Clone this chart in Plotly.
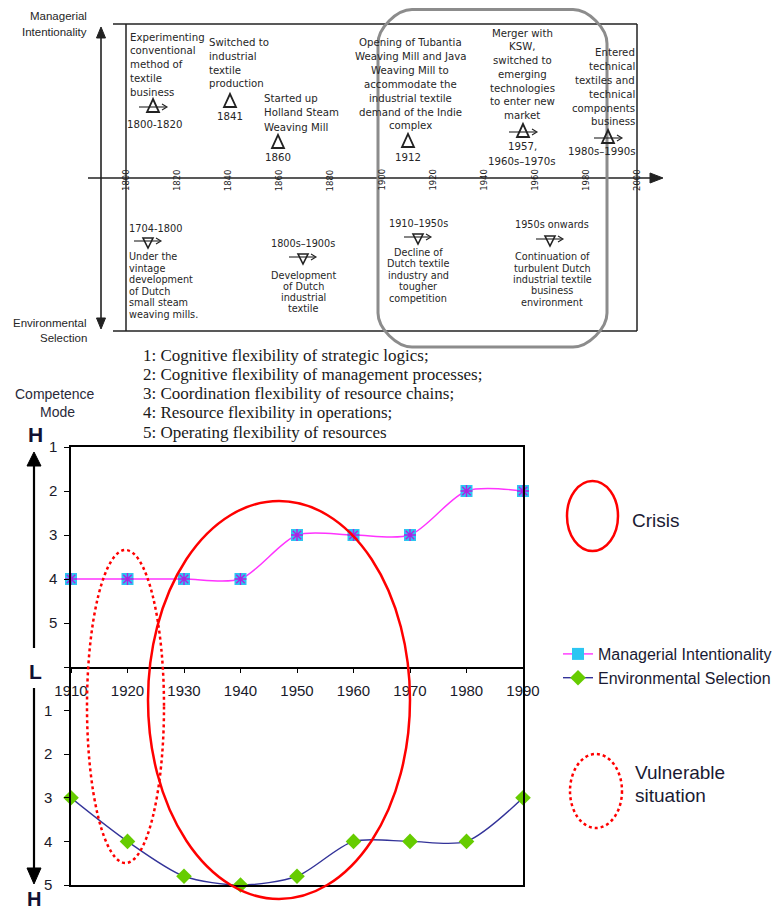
import plotly.graph_objects as go

# page offset of the figure (browser default body margin)
OFF = 8
W, H = 782 - OFF, 911 - OFF

# ---------------- data ----------------
decades = [1910, 1920, 1930, 1940, 1950, 1960, 1970, 1980, 1990]
managerial = [4, 4, 4, 4, 3, 3, 3, 2, 2]
environmental = [3, 4, 4.8, 5, 4.8, 4, 4, 4, 3]
mode_ticks_upper = [1, 2, 3, 4, 5, 6]
mode_labels_upper = ["1", "2", "3", "4", "5", ""]
mode_ticks_lower = [0, 1, 2, 3, 4, 5]
mode_labels_lower = ["", "1", "2", "3", "4", "5"]
timeline_years = [1800, 1820, 1840, 1860, 1880, 1900, 1920, 1940, 1960, 1980, 2000]
flex_labels = [
    "1: Cognitive flexibility of strategic logics;",
    "2: Cognitive flexibility of management processes;",
    "3: Coordination flexibility of resource chains;",
    "4: Resource flexibility in operations;",
    "5: Operating flexibility of resources",
]

# ---------------- helpers (screen pixel -> paper) ----------------
def X(p):
    return (p - OFF) / W

def Y(p):
    return 1 - (p - OFF) / H

shapes = []
annots = []
DARK = "#222222"
TXT = "#262626"


def line(x0, y0, x1, y1, color=DARK, width=1.5, dash="solid"):
    shapes.append(dict(type="line", xref="paper", yref="paper",
                       x0=X(x0), y0=Y(y0), x1=X(x1), y1=Y(y1),
                       line=dict(color=color, width=width, dash=dash)))


def poly(pts, color=DARK, fill=None, width=1.5):
    d = "M " + " L ".join(f"{X(a):.5f},{Y(b):.5f}" for a, b in pts) + " Z"
    shapes.append(dict(type="path", xref="paper", yref="paper", path=d,
                       line=dict(color=color, width=width),
                       fillcolor=fill if fill else "rgba(0,0,0,0)"))


def polyline(pts, color=DARK, width=1.2):
    d = "M " + " L ".join(f"{X(a):.5f},{Y(b):.5f}" for a, b in pts)
    shapes.append(dict(type="path", xref="paper", yref="paper", path=d,
                       line=dict(color=color, width=width)))


def ellipse(x0, y0, x1, y1, color="#FF0000", width=2.5, dash="solid"):
    shapes.append(dict(type="circle", xref="paper", yref="paper",
                       x0=X(x0), y0=Y(y1), x1=X(x1), y1=Y(y0),
                       line=dict(color=color, width=width, dash=dash),
                       layer="above"))


def text(t, x, y, size=10, anchor="left", color=TXT, family="DejaVu Sans",
         angle=0, bold=False):
    if bold:
        t = "<b>" + t + "</b>"
    annots.append(dict(x=X(x), y=Y(y), xref="paper", yref="paper", text=t,
                       showarrow=False, xanchor=anchor, yanchor="middle",
                       textangle=angle, borderpad=0,
                       font=dict(size=size, color=color, family=family)))


def block(lines, x, y0, dy, size=10.2, anchor="left"):
    for i, t in enumerate(lines):
        text(t, x, y0 + i * dy, size=size, anchor=anchor)


def up_tri(x, y, arrow=False):
    poly([(x, y - 7), (x - 6, y + 6), (x + 6, y + 6)], width=1.8)
    if arrow:
        line(x - 14, y + 1, x + 13, y + 1, width=1.1)
        polyline([(x + 9, y - 2), (x + 14, y + 1), (x + 9, y + 4)], width=1.1)


def down_tri(x, y):
    poly([(x - 5, y - 4), (x + 5, y - 4), (x, y + 6)], width=1.6)
    line(x - 14, y - 1, x + 12, y - 1, width=1.1)
    polyline([(x + 8, y - 4), (x + 13, y - 1), (x + 8, y + 2)], width=1.1)


# ---------------- top timeline diagram ----------------
T0, T1 = 126, 637  # px of 1800 and 2000


def tx(year):
    return T0 + (year - timeline_years[0]) * (T1 - T0) / (timeline_years[-1] - timeline_years[0])


# frame
line(113, 24, 637, 24)
line(113, 331, 637, 331)
line(126, 24, 126, 331)
line(637, 24, 637, 331)
# vertical double arrow
line(101, 36, 101, 320, width=1.6)
poly([(101, 27), (96.5, 38), (105.5, 38)], fill=DARK, width=1)
poly([(101, 329), (96.5, 318), (105.5, 318)], fill=DARK, width=1)
# horizontal time axis
line(88, 178, 652, 178, width=1.6)
poly([(663, 178), (650, 173), (650, 183)], fill=DARK, width=1)
for yr in timeline_years:
    text(str(yr), tx(yr), 180, size=8.5, anchor="center", angle=-90, color="#222222")

# rounded grey highlight box
rx0, ry0, rx1, ry1, r = 378, 9.5, 607, 347, 34
k = 0.45 * r
path = (f"M {X(rx0 + r)},{Y(ry0)} L {X(rx1 - r)},{Y(ry0)} "
        f"C {X(rx1 - r + k)},{Y(ry0)} {X(rx1)},{Y(ry0 + r - k)} {X(rx1)},{Y(ry0 + r)} "
        f"L {X(rx1)},{Y(ry1 - r)} "
        f"C {X(rx1)},{Y(ry1 - r + k)} {X(rx1 - r + k)},{Y(ry1)} {X(rx1 - r)},{Y(ry1)} "
        f"L {X(rx0 + r)},{Y(ry1)} "
        f"C {X(rx0 + r - k)},{Y(ry1)} {X(rx0)},{Y(ry1 - r + k)} {X(rx0)},{Y(ry1 - r)} "
        f"L {X(rx0)},{Y(ry0 + r)} "
        f"C {X(rx0)},{Y(ry0 + r - k)} {X(rx0 + r - k)},{Y(ry0)} {X(rx0 + r)},{Y(ry0)} Z")
shapes.append(dict(type="path", xref="paper", yref="paper", path=path,
                   line=dict(color="#8c8c8c", width=3)))

# axis titles of the timeline
text("Managerial", 88, 16, size=11.5, anchor="right", family="Liberation Sans")
text("Intentionality", 88, 32, size=11.5, anchor="right", family="Liberation Sans")
text("Environmental", 88, 323, size=11.5, anchor="right", family="Liberation Sans")
text("Selection", 88, 338, size=11.5, anchor="right", family="Liberation Sans")

# upper events
block(["Experimenting", "conventional", "method of", "textile", "business"], 129, 37, 13.9)
up_tri(153, 106, arrow=True)
text("1800-1820", 155, 125, size=10.2, anchor="center")

block(["Switched to", "industrial", "textile", "production"], 208, 43, 13.6)
up_tri(230, 101)
text("1841", 230, 117, size=10.2, anchor="center")

block(["Started up", "Holland Steam", "Weaving Mill"], 263, 99, 14)
up_tri(278, 142)
text("1860", 278, 157, size=10.2, anchor="center")

block(["Opening of Tubantia", "Weaving Mill and Java", "Weaving Mill to",
       "accommodate the", "industrial textile", "demand of the Indie", "complex"],
      410, 43, 13.8, anchor="center")
up_tri(408, 141)
text("1912", 408, 157, size=10.2, anchor="center")

block(["Merger with", "KSW,", "switched to", "emerging", "technologies",
       "to enter new", "market"], 522, 33, 13.8, anchor="center")
up_tri(523, 131, arrow=True)
text("1957,", 522, 147, size=10.2, anchor="center")
text("1960s\u20131970s", 522, 162, size=10.2, anchor="center")

block(["Entered", "technical", "textiles and", "technical", "components", "business"],
      636, 53, 13.8, anchor="right")
up_tri(608, 137, arrow=True)
text("1980s\u20131990s", 602, 152, size=10.2, anchor="center")

# lower events
text("1704-1800", 128, 228, size=9.8)
down_tri(148, 242)
block(["Under the", "vintage", "development", "of Dutch", "small steam", "weaving mills."],
      128, 257, 11.4, size=9.7)

text("1800s\u20131900s", 303, 243, size=9.7, anchor="center")
down_tri(303, 258)
block(["Development", "of Dutch", "industrial", "textile"], 303, 275, 11.2, size=9.7,
      anchor="center")

text("1910\u20131950s", 418, 223, size=9.7, anchor="center")
down_tri(418, 238)
block(["Decline of", "Dutch textile", "industry and", "tougher", "competition"],
      418, 252, 11.5, size=9.7, anchor="center")

text("1950s onwards", 552, 225, size=9.7, anchor="center")
down_tri(550, 240)
block(["Continuation of", "turbulent Dutch", "industrial textile", "business", "environment"],
      552, 257, 11.3, size=9.7, anchor="center")

# ---------------- middle text ----------------
for i, t in enumerate(flex_labels):
    text(t, 142, 355 + 19.3 * i, size=17, family="Liberation Serif", color="#1a1a1a")

text("Competence", 55, 394, size=14, anchor="center", family="Liberation Sans", color="#2a2a3a")
text("Mode", 57, 412, size=14, anchor="center", family="Liberation Sans", color="#2a2a3a")
text("H", 36, 434, size=21, anchor="center", family="Liberation Sans", color="#111133", bold=True)
text("L", 35, 671, size=21, anchor="center", family="Liberation Sans", color="#111133", bold=True)
text("H", 34, 899, size=20, anchor="center", family="Liberation Sans", color="#111133", bold=True)

# left arrows of competence chart
line(34, 462, 34, 648, color="#000000", width=2.2)
poly([(34, 452), (27, 466), (41, 466)], color="#000000", fill="#000000", width=1)
line(34, 688, 34, 870, color="#000000", width=2.2)
poly([(34, 884), (27, 868), (41, 868)], color="#000000", fill="#000000", width=1)

# ellipses
ellipse(148, 501, 410, 899)
ellipse(87, 550, 164, 863, dash="dot")
ellipse(567, 481, 618, 551)
ellipse(570, 754, 622, 828, dash="dot")
text("Crisis", 631, 520, size=19, family="Liberation Sans", color="#1a1a33")
text("Vulnerable", 634, 772, size=19, family="Liberation Sans", color="#1a1a33")
text("situation", 634, 795, size=19, family="Liberation Sans", color="#1a1a33")

# ---------------- chart ----------------
fig = go.Figure()
fig.add_trace(go.Scatter(
    x=decades, y=managerial, mode="lines+markers", name="Managerial Intentionality",
    line=dict(color="#FF33FF", width=1.4, shape="spline", smoothing=0.8),
    marker=dict(symbol="square", size=12, color="#2CC6F2", line=dict(width=0)),
    cliponaxis=False, xaxis="x", yaxis="y"))
fig.add_trace(go.Scatter(
    x=decades, y=managerial, mode="markers", showlegend=False, hoverinfo="skip",
    marker=dict(symbol="asterisk-open", size=10, color="#B020E0",
                line=dict(color="#B020E0", width=1.4)),
    cliponaxis=False, xaxis="x", yaxis="y"))
fig.add_trace(go.Scatter(
    x=decades, y=environmental, mode="lines+markers", name="Environmental Selection",
    line=dict(color="#333399", width=1.4, shape="spline", smoothing=0.8),
    marker=dict(symbol="diamond", size=12, color="#66CC00", line=dict(width=0)),
    cliponaxis=False, xaxis="x2", yaxis="y2"))

PL, PR, PT, PM, PB = 71, 523, 447, 667, 885
axfont = dict(family="Liberation Sans", size=15, color="#1a1a2a")
common_x = dict(range=[decades[0], decades[-1]], domain=[X(PL), X(PR)],
                showgrid=False, zeroline=False, showline=True, linecolor="#000000",
                linewidth=1.5, tickfont=axfont)
fig.update_layout(
    xaxis=dict(**common_x, mirror=True, anchor="y", tickvals=decades,
               ticktext=[str(d) for d in decades],
               ticks="outside", ticklen=4, tickcolor="#000000", ticklabelstandoff=5),
    yaxis=dict(range=[6, 1], domain=[Y(PM), Y(PT)], anchor="x", tickvals=mode_ticks_upper,
               ticktext=mode_labels_upper, ticks="outside", ticklen=5, tickcolor="#000000",
               showgrid=False, zeroline=False, showline=True, linecolor="#000000",
               linewidth=1.5, mirror=True, tickfont=axfont, ticklabelstandoff=4),
    xaxis2=dict(**common_x, mirror=False, anchor="y2", showticklabels=False, ticks=""),
    yaxis2=dict(range=[5, 0], domain=[Y(PB), Y(PM)], anchor="x2", tickvals=mode_ticks_lower,
                ticktext=mode_labels_lower, ticks="outside", ticklen=5, tickcolor="#000000",
                showgrid=False, zeroline=False, showline=True, linecolor="#000000",
                linewidth=1.5, mirror=True, tickfont=axfont, ticklabelstandoff=9),
    legend=dict(x=X(558), y=Y(637), xanchor="left", yanchor="top",
                bgcolor="rgba(0,0,0,0)", borderwidth=0, tracegroupgap=0,
                font=dict(family="Liberation Sans", size=16, color="#1a1a33")),
    shapes=shapes, annotations=annots,
    width=W, height=H, autosize=False,
    margin=dict(l=0, r=0, t=0, b=0, pad=0, autoexpand=False),
    paper_bgcolor="white", plot_bgcolor="white",
    showlegend=True,
)

fig.write_html("out.html")
